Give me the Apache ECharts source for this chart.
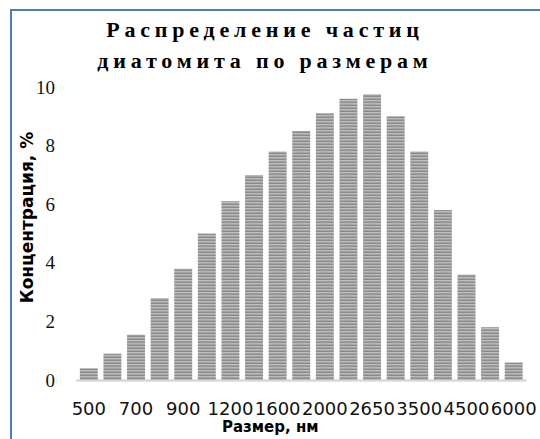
<!DOCTYPE html>
<html>
<head>
<meta charset="utf-8">
<script src="https://cdn.jsdelivr.net/npm/echarts@6/dist/echarts.min.js"></script>
<style>
  html, body { margin: 0; padding: 0; background: #fff; }
  #chart { width: 540px; height: 439px; }
  /* spaced-out serif heading */
  #chart text[style*="Liberation Serif"][style*="bold"] { letter-spacing: 4.8px; }
</style>
</head>
<body>
<div id="chart"></div>
<script>
// particle sizes, nm
const sizes = ['500', '600', '700', '800', '900', '1000', '1200', '1400', '1600', '1800',
               '2000', '2300', '2650', '3000', '3500', '4000', '4500', '5000', '6000'];
// concentration, %
const concentration = [0.4, 0.9, 1.55, 2.8, 3.8, 5.0, 6.1, 7.0, 7.8, 8.5,
                       9.1, 9.6, 9.75, 9.0, 7.8, 5.8, 3.6, 1.8, 0.6];
// value-axis ticks
const yTicks = [0, 2, 4, 6, 8, 10];

const titleLines = ['Распределение частиц', 'диатомита по размерам'];

// horizontal-line fill for the bars
function stripeFill() {
  const shades = ['#8d8d8d', '#bbbbbb', '#a4a4a4', '#8a8a8a', '#bfbfbf', '#9c9c9c',
                  '#939393', '#b7b7b7', '#a7a7a7', '#888888', '#bdbdbd', '#a0a0a0'];
  const c = document.createElement('canvas');
  c.width = 4; c.height = shades.length;
  const ctx = c.getContext('2d');
  shades.forEach((s, i) => { ctx.fillStyle = s; ctx.fillRect(0, i, 4, 1); });
  return { image: c.toDataURL(), repeat: 'repeat', imageWidth: 4, imageHeight: shades.length };
}

const chart = echarts.init(document.getElementById('chart'), null, { renderer: 'svg' });

chart.setOption({
  animation: false,
  backgroundColor: '#ffffff',
  title: {
    text: titleLines.join('\n'),
    left: 260,
    top: 9,
    textAlign: 'center',
    textStyle: {
      fontFamily: "'Liberation Serif'",
      fontWeight: 'bold',
      fontSize: 22,
      lineHeight: 31,
      color: '#000'
    }
  },
  graphic: [{
    type: 'rect',
    silent: true,
    shape: { x: 11, y: 10, width: 700, height: 700 },
    style: { fill: 'none', stroke: '#4a7ebb', lineWidth: 2 }
  }],
  grid: { left: 77, right: 14.5, top: 87, bottom: 58 },
  xAxis: {
    type: 'category',
    data: sizes,
    name: 'Размер, нм',
    nameLocation: 'middle',
    nameGap: 39,
    nameMoveOverlap: false,
    nameTextStyle: {
      fontFamily: 'DejaVu Sans', fontWeight: 'bold', fontSize: 15, color: '#000',
      padding: [0, 62, 0, 0]
    },
    axisLine: { lineStyle: { color: '#d9d9d9', width: 2.5 } },
    axisTick: { show: false },
    axisLabel: {
      interval: 1,
      margin: 19,
      fontFamily: 'DejaVu Sans',
      fontSize: 18,
      color: '#111'
    }
  },
  yAxis: {
    type: 'value',
    min: yTicks[0],
    max: yTicks[yTicks.length - 1],
    interval: yTicks[1] - yTicks[0],
    name: 'Концентрация, %',
    nameLocation: 'middle',
    nameRotate: 90,
    nameGap: 42,
    nameMoveOverlap: false,
    nameTextStyle: {
      fontFamily: 'DejaVu Sans', fontWeight: 'bold', fontSize: 17, color: '#000',
      padding: [0, 0, 0, 32]
    },
    axisLine: { show: false },
    axisTick: { show: false },
    splitLine: { show: false },
    axisLabel: {
      margin: 22,
      fontFamily: "'Liberation Serif'",
      fontSize: 19,
      color: '#111'
    }
  },
  series: [{
    type: 'bar',
    data: concentration,
    barCategoryGap: '24%',
    itemStyle: { color: stripeFill() }
  }]
});

// apply spacing directly too, in case the stylesheet selector misses
function spaceTitle() {
  document.querySelectorAll('#chart text').forEach(t => {
    if (titleLines.includes(t.textContent.trim())) t.style.letterSpacing = '4.8px';
  });
}
chart.on('finished', spaceTitle);
spaceTitle();
</script>
</body>
</html>
